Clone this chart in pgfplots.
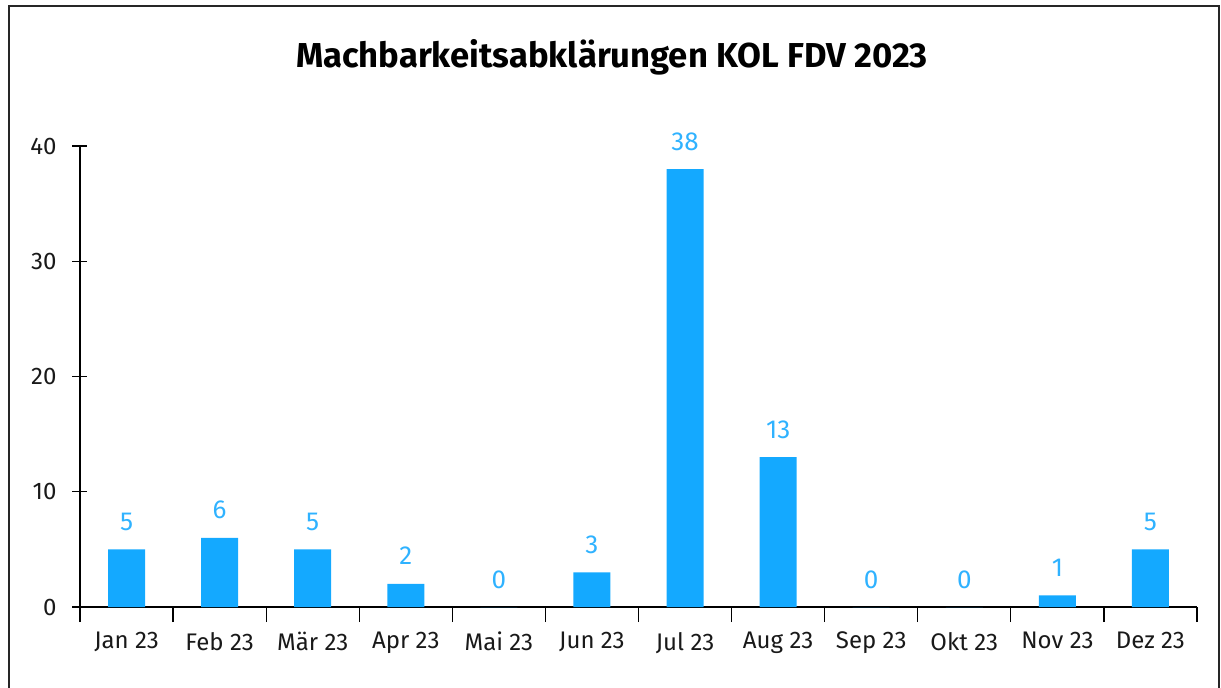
\documentclass[border=0pt]{standalone}
\usepackage{pgfplots}
\pgfplotsset{compat=1.18}
\usepackage{fontspec}
\setmainfont{Fira Sans}
\definecolor{barblue}{HTML}{14A9FF}
\definecolor{lblblue}{HTML}{2FB2FF}
\begin{document}
\begin{tikzpicture}
\useasboundingbox (0,0) rectangle (610.5pt,343.5pt);
\draw[line width=1pt, black!85] (4.5pt,-1pt) -- (4.5pt,340.5pt) -- (609.5pt,340.5pt) -- (609.5pt,-1pt);
\node[font=\bfseries\fontsize{17.3}{20}\selectfont] at (306pt,315pt) {Machbarkeitsabklärungen KOL FDV 2023};
\begin{axis}[
  at={(40pt,40pt)}, anchor=south west,
  scale only axis, width=558.5pt, height=230.5pt,
  xmin=-0.5, xmax=11.5, ymin=0, ymax=40,
  axis lines*=left,
  axis line style={black, line width=0.6pt},
  ytick={0,10,20,30,40},
  xtick={0,...,11},
  xticklabels={Jan 23,Feb 23,Mär 23,Apr 23,Mai 23,Jun 23,Jul 23,Aug 23,Sep 23,Okt 23,Nov 23,Dez 23},
  major x tick style={draw=none},
  minor xtick={-0.5,0.5,...,11.5},
  tick align=center,
  major tick length=7.5pt, minor tick length=7.5pt,
  tick style={black, line width=0.6pt},
  /pgf/number format/assume math mode=true,
  ticklabel style={font=\fontsize{12}{14}\selectfont, text=black!90},
  xticklabel style={yshift=-1.5pt},
  yticklabel style={xshift=-4.5pt},
  ybar, bar width=18.5pt,
  nodes near coords,
  every node near coord/.append style={font=\fontsize{13}{15}\selectfont, text=lblblue, anchor=base, inner sep=0pt, yshift=9.5pt},
  clip=false,
]
\addplot[fill=barblue, draw=none] coordinates {(0,5) (1,6) (2,5) (3,2) (4,0) (5,3) (6,38) (7,13) (8,0) (9,0) (10,1) (11,5)};
\end{axis}
\end{tikzpicture}
\end{document}
